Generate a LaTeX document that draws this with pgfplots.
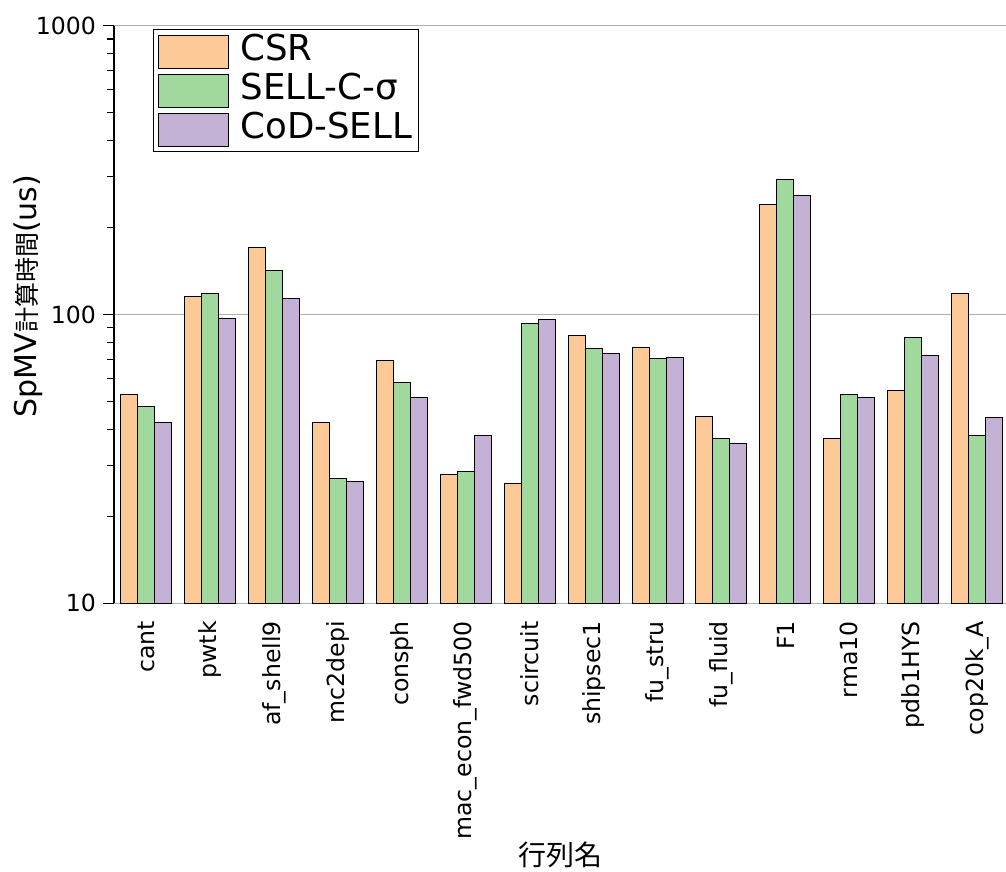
\documentclass[border=0pt]{standalone}
\usepackage{fontspec}
\setmainfont{DejaVu Sans}
\newfontfamily\cjk{Noto Sans CJK JP}
\usepackage{pgfplots}
\pgfplotsset{compat=1.18}
\definecolor{csr}{RGB}{252,201,151}
\definecolor{sell}{RGB}{160,216,158}
\definecolor{cod}{RGB}{195,177,214}
\definecolor{gridg}{RGB}{175,175,175}
\begin{document}
\begin{tikzpicture}
\begin{axis}[
  scale only axis, width=446pt, height=288.8pt,
  ymode=log, ymin=10, ymax=1000, log origin=infty,
  xmin=-0.5, xmax=13.45,
  ybar=0pt, bar width=8.5pt,
  xtick=data,
  xticklabels={cant,pwtk,af\_shell9,mc2depi,consph,mac\_econ\_fwd500,scircuit,shipsec1,fu\_stru,fu\_fluid,F1,rma10,pdb1HYS,cop20k\_A},
  x tick label style={rotate=90, anchor=east},
  major x tick style={draw=none},
  ytick={10,100,1000}, yticklabels={10,100,1000},
  minor ytick={20,30,40,50,60,70,80,90,200,300,400,500,600,700,800,900},
  ymajorgrids, major grid style={gridg, line width=0.6pt},
  axis x line*=bottom, axis y line*=left,
  x axis line style={draw=none}, y axis line style={-, line width=0.6pt, black},
  tick align=outside, ytick pos=left,
  major tick length=5.5pt, minor tick length=3.5pt,
  every tick/.style={black, line width=0.6pt},
  tick label style={font=\fontsize{11.8}{14}\selectfont},
  ylabel={SpMV{\cjk\fontsize{12.5}{15}\selectfont 計算時間}(us)},
  ylabel style={font=\fontsize{15}{18}\selectfont, at={(axis description cs:-0.0964,0.532)}, anchor=center},
  xlabel={{\cjk 行列名}},
  xlabel style={font=\fontsize{14}{17}\selectfont, at={(axis description cs:0.5,-0.436)}, anchor=center},
  legend style={at={(0.0437,0.994)}, anchor=north west, draw=black, line width=0.5pt,
    font=\fontsize{17.8}{20}\selectfont, inner sep=2.5pt, row sep=2.5pt, column sep=5pt,
    nodes={inner sep=0.5pt, text height=12.5pt, text depth=3.5pt}},
  legend cell align=left,
]
\addplot[fill=csr, draw=black, line width=0.5pt,
  legend image code/.code={\draw[fill=csr, draw=black, line width=0.5pt] (0pt,-8.25pt) rectangle (35pt,8.25pt);}]
  coordinates {(0,52.9) (1,115.4) (2,170.6) (3,42.3) (4,69.3) (5,28.0) (6,25.9) (7,84.8) (8,76.9) (9,44.5) (10,240) (11,37.2) (12,54.6) (13,118)};
\addplot[fill=sell, draw=black, line width=0.5pt,
  legend image code/.code={\draw[fill=sell, draw=black, line width=0.5pt] (0pt,-8.25pt) rectangle (35pt,8.25pt);}]
  coordinates {(0,48.0) (1,118.2) (2,142) (3,27.1) (4,58.2) (5,28.6) (6,92.8) (7,76.4) (8,70.2) (9,37.2) (10,293) (11,52.9) (12,83.3) (13,38.1)};
\addplot[fill=cod, draw=black, line width=0.5pt,
  legend image code/.code={\draw[fill=cod, draw=black, line width=0.5pt] (0pt,-8.25pt) rectangle (35pt,8.25pt);}]
  coordinates {(0,42.3) (1,96.9) (2,113.6) (3,26.4) (4,51.6) (5,38.0) (6,95.8) (7,73.3) (8,71.1) (9,35.8) (10,258) (11,51.6) (12,72.1) (13,44.0)};
\legend{CSR, SELL-C-σ, CoD-SELL}
\end{axis}
\pgfresetboundingbox
\useasboundingbox (-57pt,-134pt) rectangle (446pt,301.65pt);
\end{tikzpicture}
\end{document}
